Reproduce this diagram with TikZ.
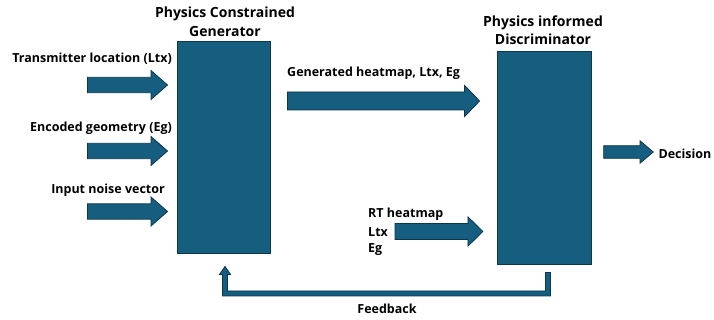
\documentclass[tikz,border=0pt]{standalone}
\usepackage{fontspec}
\setmainfont{Open Sans}
\usetikzlibrary{calc}
\definecolor{tealfill}{RGB}{22,94,128}
\definecolor{tealline}{RGB}{12,54,76}
\tikzset{
  box/.style={draw=tealline, fill=tealfill, line width=0.9pt, rectangle, inner sep=0pt},
  barrow/.style={draw=tealline, fill=tealfill, line width=0.8pt, line join=miter},
  lbl/.style={font=\bfseries\fontsize{12.5}{14}\selectfont, inner sep=0pt, text=black},
  ttl/.style={font=\bfseries\fontsize{14}{18.5}\selectfont, inner sep=0pt, align=center, text=black}
}
% #1 start, #2 tip, #3 shaft half width, #4 head half width, #5 head length
\newcommand{\blockarrow}[5]{%
  \path[barrow] let \p1=(#1), \p2=(#2) in
    (\x1,{\y1+#3}) -- ({\x2-#5},{\y1+#3}) -- ({\x2-#5},{\y1+#4}) -- (\x2,\y1)
    -- ({\x2-#5},{\y1-#4}) -- ({\x2-#5},{\y1-#3}) -- (\x1,{\y1-#3}) -- cycle;}
\begin{document}
\begin{tikzpicture}[x=1pt,y=-1pt]
\useasboundingbox (0,0) rectangle (714,320);
% boxes
\node[box, minimum width=92.7pt, minimum height=212pt] (gen) at (223.6,147.2) {};
\node[box, minimum width=93.7pt, minimum height=212.8pt] (disc) at (544.2,158.1) {};
% titles
\node[ttl] (gent) at (225,22) {Physics Constrained\\Generator};
\node[ttl] (disct) at (543,30) {Physics informed\\Discriminator};
% input labels
\node[lbl, anchor=east] (l1) at (172,59) {Transmitter location (Ltx)};
\node[lbl, anchor=east] (l2) at (172,128) {Encoded geometry (Eg)};
\node[lbl, anchor=east] (l3) at (165,190) {Input noise vector};
% input arrows
\coordinate (a1s) at (87.5,85);  \coordinate (a1e) at ($(gen.west |- a1s)+(-9.3,0)$);
\coordinate (a2s) at (87.5,151); \coordinate (a2e) at ($(gen.west |- a2s)+(-9.3,0)$);
\coordinate (a3s) at (87.5,211.5); \coordinate (a3e) at ($(gen.west |- a3s)+(-9.3,0)$);
\blockarrow{a1s}{a1e}{7.7pt}{14.5pt}{16.5pt}
\blockarrow{a2s}{a2e}{7.7pt}{14.5pt}{16.5pt}
\blockarrow{a3s}{a3e}{7.7pt}{14.5pt}{16.5pt}
% generated heatmap arrow
\node[lbl, anchor=west] (gh) at (287,73) {Generated heatmap, Ltx, Eg};
\coordinate (ghs) at ($(gen.east |- 0,101)+(17,0)$);
\coordinate (ghe) at ($(disc.west |- 0,101)+(-17.3,0)$);
\blockarrow{ghs}{ghe}{9pt}{15.5pt}{15pt}
% RT heatmap arrow
\node[lbl, anchor=west] (rt1) at (368,214) {RT heatmap};
\node[lbl, anchor=west] (rt2) at (368,232) {Ltx};
\node[lbl, anchor=west] (rt3) at (368,250) {Eg};
\coordinate (rts) at (395,231.5);
\coordinate (rte) at ($(disc.west |- rts)+(-14,0)$);
\blockarrow{rts}{rte}{8pt}{14.7pt}{15pt}
% decision arrow
\coordinate (ds) at ($(disc.east |- 0,152)+(12.2,0)$);
\coordinate (de) at (653.3,152);
\blockarrow{ds}{de}{6.3pt}{11.2pt}{13.3pt}
\node[lbl, anchor=west] (dec) at (658.3,154) {Decision};
% feedback
\coordinate (fbs) at ($(disc.south)+(3.8,7.5)$);
\coordinate (fbe) at ($(gen.south)+(1.4,12.8)$);
\path[barrow] let \p1=(fbs), \p2=(fbe) in
  ({\x1+2.5pt},\y1) -- ({\x1+2.5pt},{\y1-23.5pt}) -- ({\x2-2.5pt},{\y1-23.5pt})
  -- ({\x2-2.5pt},{\y2-8pt}) -- ({\x2-5.5pt},{\y2-8pt}) -- (\x2,\y2)
  -- ({\x2+5.5pt},{\y2-8pt}) -- ({\x2+2.5pt},{\y2-8pt}) -- ({\x2+2.5pt},{\y1-18.5pt})
  -- ({\x1-2.5pt},{\y1-18.5pt}) -- ({\x1-2.5pt},\y1) -- cycle;
\node[lbl] (fb) at (387,309) {Feedback};
\end{tikzpicture}
\end{document}
